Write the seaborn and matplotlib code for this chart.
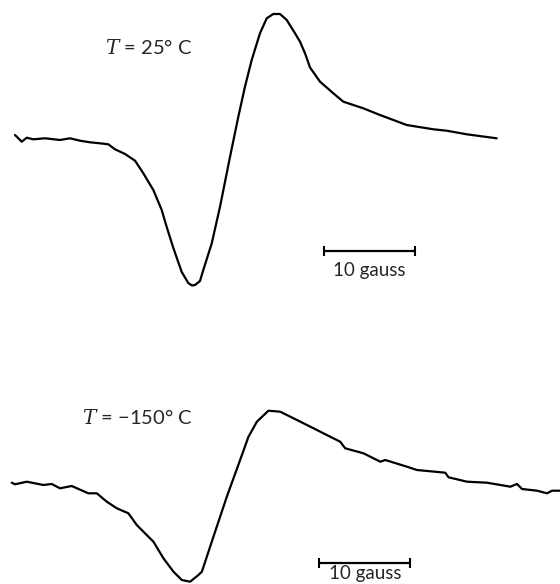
import matplotlib
matplotlib.use("Agg")
import matplotlib.pyplot as plt
import seaborn as sns
import pandas as pd

# EPR traces: field in gauss (from start of sweep), signal in arbitrary units
field_25 = [0.11, 0.85, 1.40, 2.12, 3.41, 5.05, 6.15, 7.25, 8.35, 9.45, 10.36, 11.10,
            12.20, 13.30, 14.21, 15.31, 16.23, 16.78, 17.51, 18.43, 19.15, 19.56, 19.89,
            20.44, 20.80, 21.73, 22.64, 23.74, 24.65, 25.38, 26.12, 27.03, 27.77, 28.49,
            29.23, 29.97, 30.88, 31.43, 31.98, 32.53, 33.63, 35.09, 36.19, 38.38, 40.22,
            43.15, 46.08, 47.55, 49.75, 53.04]
signal_25 = [5, -1.7, 2.3, 0.7, 1.7, 0, 1.7, -0.7, -2.3, -3.3, -4.3, -9.3,
             -14, -20.7, -33.3, -50, -70, -87, -108, -132, -143, -145.5, -145,
             -141, -130, -103.3, -66.7, -16.7, 23.3, 53.3, 80, 106.7, 121.7, 126,
             126, 120, 106.7, 98.3, 86.7, 72.5, 58.3, 46.7, 38.3, 31.7, 25,
             15, 10.7, 9.3, 5.7, 1.7]

field_m150 = [0.19, 0.55, 1.84, 3.66, 4.58, 5.49, 6.78, 8.60, 9.53, 10.63, 11.73, 13.0,
              13.92, 14.65, 15.75, 16.85, 17.95, 18.87, 19.78, 20.69, 21.07, 22.34, 23.81,
              25.27, 26.19, 27.11, 28.38, 29.67, 31.51, 33.33, 35.16, 36.26, 36.81, 38.82,
              40.66, 41.21, 43.59, 44.69, 47.80, 48.16, 50.19, 52.38, 54.95, 55.68, 56.23,
              57.88, 58.98, 59.53, 60.44]
signal_m150 = [2.3, 0.7, 3.3, 0, 1, -3.3, -1, -8.3, -8.3, -16.7, -23.3, -28.3,
               -40, -46.7, -56.7, -73.3, -86.7, -95, -96.7, -90, -86.7, -51.7, -11.7,
               25, 48.3, 63.3, 74.3, 73.3, 65, 56.7, 48.3, 43.3, 36.7, 31.7,
               23.3, 25, 18.3, 15, 12.3, 7.7, 3.3, 2.3, -1.7, 1, -4,
               -5.7, -8.3, -5.7, -5.7]

labels = ["$T$ = 25° C", "$T$ = \u2212150° C"]
scale_gauss = 10
scale_start = [34.07, 33.96]

sns.set_style("white")
plt.rcParams["font.family"] = ["Lato", "DejaVu Sans"]
plt.rcParams["mathtext.fontset"] = "dejavuserif"

fig = plt.figure(figsize=(5.6, 5.84), dpi=100)
ax_top = fig.add_axes([0, 1 - 300 / 584, 1, 300 / 584])
ax_bot = fig.add_axes([0, 0, 1, 194 / 584])

panels = [
    (ax_top, field_25, signal_25, (-1.54, 60.0), (-160, 140), (10.0, 92), -111, -136),
    (ax_bot, field_m150, signal_m150, (-1.1, 60.4), (-99, 95), (7.9, 67), -78, -94),
]

for i, (ax, fx, sy, xl, yl, lab_pos, bar_y, txt_y) in enumerate(panels):
    df = pd.DataFrame({"field": fx, "signal": sy})
    sns.lineplot(data=df, x="field", y="signal", ax=ax, color="black",
                 linewidth=1.6, estimator=None, sort=False)
    ax.lines[-1].set_solid_joinstyle("round")
    # 10 gauss scale bar
    bx = [scale_start[i], scale_start[i] + scale_gauss]
    ax.plot(bx, [bar_y, bar_y], color="black", linewidth=1.6)
    ax.plot(bx, [bar_y, bar_y], color="black", linestyle="none", marker="|",
            markersize=7, markeredgewidth=1.5)
    ax.text(sum(bx) / 2, txt_y, f"{scale_gauss} gauss", ha="center", va="baseline",
            fontsize=13.5)
    ax.text(lab_pos[0], lab_pos[1], labels[i], ha="left", va="center", fontsize=14.5)
    ax.set_xlim(*xl)
    ax.set_ylim(*yl)
    ax.axis("off")

fig.savefig("out.png", dpi=100, facecolor="white")
